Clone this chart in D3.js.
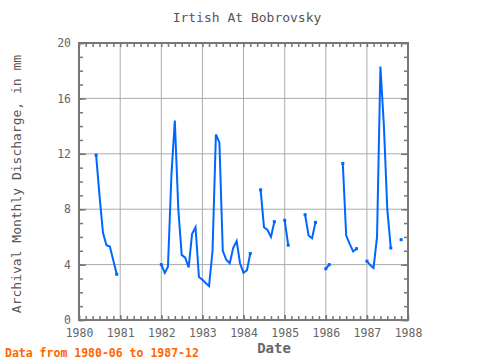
<!DOCTYPE html>
<html>
<head>
<meta charset="utf-8">
<script src="https://cdn.jsdelivr.net/npm/d3@7"></script>
<style>
  body { margin: 0; background: #fff; }
  svg { display: block; }
  text { font-family: "DejaVu Sans Mono", monospace; }
</style>
</head>
<body>
<svg id="chart" width="480" height="360"></svg>
<script>
var title = "Irtish At Bobrovsky";
var yLabel = "Archival Monthly Discharge, in mm";
var xLabel = "Date";
var note = "Data from 1980-06 to 1987-12";

// monthly values starting 1980-06, null = missing month
var firstMonth = "1980-06";
var discharge = [
  11.9, 9.0, 6.3, 5.4, 5.3, 4.3, 3.3,                                   // 1980 Jun-Dec
  null, null, null, null, null, null, null, null, null, null, null, null, // 1981
  4.0, 3.4, 3.85, 10.5, 14.4, 8.0, 4.7, 4.5, 3.8, 6.2, 6.7, 3.1,          // 1982
  2.9, 2.65, 2.45, 5.0, 13.4, 12.8, 5.0, 4.35, 4.1, 5.2, 5.7, 4.1,        // 1983
  3.4, 3.6, 4.8, null, null, 9.4, 6.7, 6.5, 6.0, 7.1, null, null,         // 1984
  7.2, 5.4, null, null, null, null, 7.6, 6.1, 5.9, 7.05, null, null,      // 1985
  3.7, 4.0, null, null, null, 11.3, 6.1, 5.5, 4.95, 5.15, null, null,     // 1986
  4.25, 3.95, 3.75, 6.0, 18.3, 14.0, 8.0, 5.2, null, null, 5.8, null      // 1987
];
var yearTicks = [1980, 1981, 1982, 1983, 1984, 1985, 1986, 1987, 1988];
var yTicks = [0, 4, 8, 12, 16, 20];

var margin = {top: 43, right: 72, bottom: 40, left: 79},
    width = 480 - margin.left - margin.right,
    height = 360 - margin.top - margin.bottom;

var svg = d3.select("#chart");
var g = svg.append("g")
  .attr("transform", "translate(" + margin.left + "," + margin.top + ")");

var start = d3.timeParse("%Y-%m")(firstMonth);
var data = discharge.map(function(v, i) {
  return {date: d3.timeMonth.offset(start, i), v: v};
});

var x = d3.scaleTime()
  .domain([new Date(yearTicks[0], 0, 1), new Date(yearTicks[yearTicks.length - 1], 0, 1)])
  .range([0, width]);
var y = d3.scaleLinear().domain([0, 20]).range([height, 0]);

var yearDates = yearTicks.map(function(t) { return new Date(t, 0, 1); });

// grid
g.selectAll(".vgrid").data(yearDates.slice(1, -1)).enter().append("line")
  .attr("x1", function(d) { return x(d); }).attr("x2", function(d) { return x(d); })
  .attr("y1", 0).attr("y2", height)
  .attr("stroke", "#aaa").attr("stroke-width", 1);
g.selectAll(".hgrid").data(yTicks.slice(1, -1)).enter().append("line")
  .attr("x1", 0).attr("x2", width)
  .attr("y1", function(d) { return y(d); }).attr("y2", function(d) { return y(d); })
  .attr("stroke", "#aaa").attr("stroke-width", 1);

function styleAxis(sel) {
  sel.select(".domain").remove();
  sel.selectAll("line").attr("stroke", "#777").attr("stroke-width", 1.5);
  sel.selectAll("text").attr("fill", "#666").style("font-size", "11.5px")
    .style("font-family", "'DejaVu Sans Mono', monospace");
}

var minorX = d3.timeMonth.every(2).range(x.domain()[0], x.domain()[1]);

g.append("g").attr("transform", "translate(0," + height + ")")
  .call(d3.axisBottom(x).tickValues(yearDates).tickFormat(d3.timeFormat("%Y"))
    .tickSize(-5).tickPadding(9))
  .call(styleAxis);
g.append("g").attr("transform", "translate(0," + height + ")")
  .call(d3.axisBottom(x).tickValues(minorX).tickFormat("").tickSize(-4))
  .call(styleAxis);
g.append("g")
  .call(d3.axisTop(x).tickValues(minorX).tickFormat("").tickSize(-4))
  .call(styleAxis);

g.append("g")
  .call(d3.axisLeft(y).tickValues(yTicks).tickSize(-7).tickPadding(8))
  .call(styleAxis);
g.append("g")
  .call(d3.axisLeft(y).ticks(20).tickFormat("").tickSize(-4))
  .call(styleAxis);
g.append("g").attr("transform", "translate(" + width + ",0)")
  .call(d3.axisRight(y).tickValues(yTicks).tickFormat("").tickSize(-7))
  .call(styleAxis);
g.append("g").attr("transform", "translate(" + width + ",0)")
  .call(d3.axisRight(y).ticks(20).tickFormat("").tickSize(-4))
  .call(styleAxis);

// frame
g.append("rect").attr("width", width).attr("height", height)
  .attr("fill", "none").attr("stroke", "#777").attr("stroke-width", 2);

// series
var line = d3.line()
  .defined(function(d) { return d.v != null; })
  .x(function(d) { return x(d.date); })
  .y(function(d) { return y(d.v); });

g.append("path").datum(data)
  .attr("fill", "none").attr("stroke", "#0066ff").attr("stroke-width", 2)
  .attr("d", line);

// small markers where a run of data starts or stops
var ends = data.filter(function(d, i) {
  if (d.v == null) return false;
  var prev = i > 0 ? data[i - 1].v : null;
  var next = i < data.length - 1 ? data[i + 1].v : null;
  return prev == null || next == null;
});
g.selectAll(".pt").data(ends).enter().append("rect")
  .attr("x", function(d) { return x(d.date) - 1.5; })
  .attr("y", function(d) { return y(d.v) - 1.5; })
  .attr("width", 3).attr("height", 3).attr("fill", "#0066ff");

// texts
svg.append("text").attr("x", 247).attr("y", 22).attr("text-anchor", "middle")
  .attr("fill", "#555").style("font-size", "13px").text(title);
svg.append("text").attr("transform", "translate(21,184) rotate(-90)")
  .attr("text-anchor", "middle").attr("fill", "#555").style("font-size", "13px")
  .text(yLabel);
svg.append("text").attr("x", 274).attr("y", 353).attr("text-anchor", "middle")
  .attr("fill", "#666").style("font-size", "14px").style("font-weight", "bold")
  .text(xLabel);
svg.append("text").attr("x", 5).attr("y", 357)
  .attr("fill", "#ff6600").style("font-size", "11.5px").style("font-weight", "bold")
  .text(note);
</script>
</body>
</html>
